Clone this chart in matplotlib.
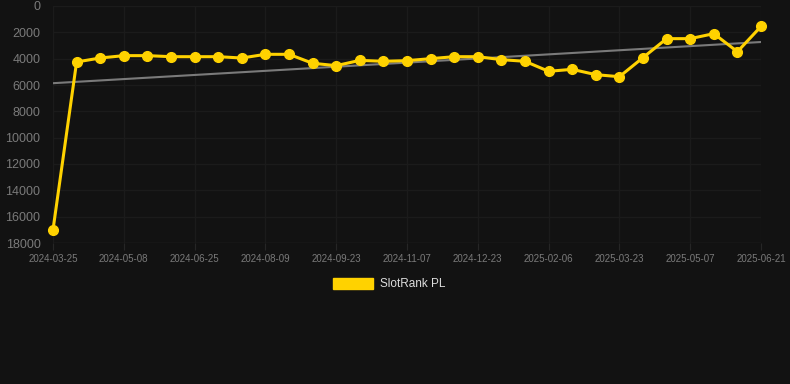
import matplotlib.pyplot as plt
import numpy as np
from matplotlib.patches import Rectangle

# === данные ===
tick_labels = ['2024-03-25', '2024-05-08', '2024-06-25', '2024-08-09', '2024-09-23',
               '2024-11-07', '2024-12-23', '2025-02-06', '2025-03-23', '2025-05-07',
               '2025-06-21']
rank = [17000, 4250, 3950, 3770, 3770, 3850, 3850, 3850, 3950, 3670, 3670,
        4350, 4530, 4130, 4200, 4150, 4000, 3850, 3850, 4075, 4200,
        4960, 4810, 5215, 5370, 3920, 2480, 2480, 2100, 3470, 1550]
series_name = 'SlotRank PL'

bg = '#121212'
yellow = '#ffd200'
plt.rcParams['font.family'] = ['Liberation Sans', 'DejaVu Sans']

x = np.arange(len(rank))
fig = plt.figure(figsize=(7.9, 3.84), dpi=100, facecolor=bg)
ax = fig.add_axes([53 / 790, 1 - 243 / 384, (761 - 53) / 790, (243 - 6) / 384])
ax.set_facecolor(bg)

# тренд
k, b = np.polyfit(x, rank, 1)
ax.plot(x, k * x + b, color='#7a7a7a', linewidth=1.5, zorder=2)

ax.plot(x, rank, color=yellow, linewidth=2.2, marker='o', markersize=7, zorder=3,
        clip_on=False)

ax.set_xlim(0, len(rank) - 1)
ax.set_ylim(18000, 0)
ax.set_yticks(range(0, 18001, 2000))
ax.set_xticks(x[::3])
ax.set_xticklabels(tick_labels)

ax.grid(True, color='#1b1b1b', linewidth=1)
for s in ax.spines.values():
    s.set_visible(False)
ax.axhline(18000, color='#2a2a2a', linewidth=1, zorder=1)

ax.tick_params(axis='y', colors='#7a7a7a', labelsize=9, length=0, pad=9)
ax.tick_params(axis='x', colors='#262626', labelcolor='#7a7a7a', labelsize=7, length=5, pad=3)

# легенда
fig.patches.append(Rectangle((333 / 790, 1 - 289 / 384), 40 / 790, 11 / 384,
                             transform=fig.transFigure, color=yellow))
fig.text(380 / 790, 1 - 284 / 384, series_name, color='#dddddd', fontsize=8.5,
         va='center', ha='left')

fig.savefig('out.png', dpi=100, facecolor=bg)
